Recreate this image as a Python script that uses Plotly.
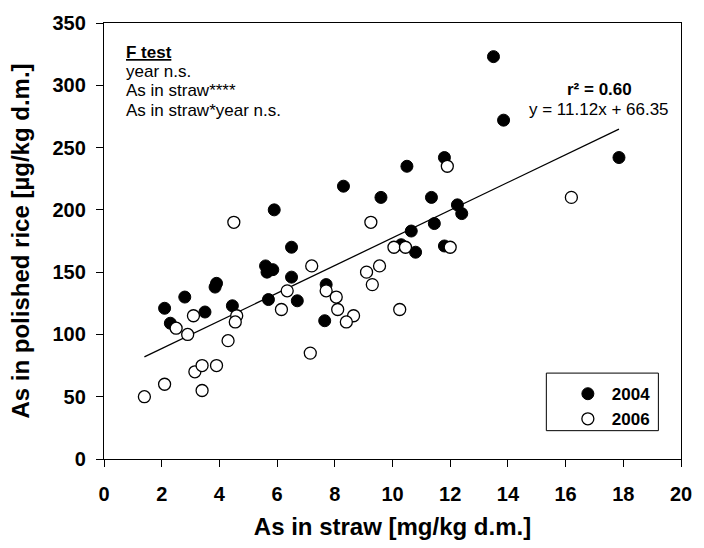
import plotly.graph_objects as go

# ---- data ----
straw_2004 = [2.1, 2.3, 2.8, 3.5, 3.9, 3.85, 4.45, 5.6, 5.65, 5.85, 5.7, 5.9, 6.5, 6.5, 6.7,
              7.7, 7.65, 8.3, 9.6, 10.5, 10.65, 10.3, 10.8, 11.35, 11.45, 11.8, 11.8, 12.25,
              12.4, 13.5, 13.85, 17.85]
rice_2004 = [121, 109, 130, 118, 141, 138, 123, 155, 150, 152, 128, 200, 170, 146, 127,
             140, 111, 219, 210, 235, 183, 172, 166, 210, 189, 171, 242, 204,
             197, 323, 272, 242]

straw_2006 = [1.4, 2.1, 2.5, 2.9, 3.1, 3.15, 3.4, 3.4, 3.9, 4.3, 4.6, 4.55, 4.5, 6.15, 6.35,
              7.2, 7.15, 7.7, 8.05, 8.1, 8.65, 8.4, 9.25, 9.1, 9.55, 9.3, 10.05, 10.45, 10.25,
              11.9, 12.0, 16.2]
rice_2006 = [50, 60, 105, 100, 115, 70, 75, 55, 75, 95, 115, 110, 190, 120, 135,
             155, 85, 135, 130, 120, 115, 110, 190, 150, 155, 140, 170, 170, 120,
             235, 170, 210]

slope = 11.12
intercept = 66.35
r2 = 0.60

x_ticks = [0, 2, 4, 6, 8, 10, 12, 14, 16, 18, 20]
y_ticks = [0, 50, 100, 150, 200, 250, 300, 350]

ftest_lines = ["<b><u>F test</u></b>", "year n.s.", "As in straw****", "As in straw*year n.s."]

# regression line over the data range
all_x = straw_2004 + straw_2006
fit_x = [min(all_x), max(all_x)]
fit_y = [slope * v + intercept for v in fit_x]

FONT = "Liberation Sans, Arial, sans-serif"

fig = go.Figure()
fig.add_trace(go.Scatter(x=fit_x, y=fit_y, mode="lines",
                         line=dict(color="black", width=1.3),
                         showlegend=False, hoverinfo="skip"))
fig.add_trace(go.Scatter(x=straw_2004, y=rice_2004, mode="markers", name="2004",
                         marker=dict(symbol="circle", size=12, color="black",
                                     line=dict(color="black", width=1))))
fig.add_trace(go.Scatter(x=straw_2006, y=rice_2006, mode="markers", name="2006",
                         marker=dict(symbol="circle", size=12, color="white",
                                     line=dict(color="black", width=1.3))))

axis_common = dict(showline=True, linecolor="black", linewidth=1.3, mirror=True,
                   ticks="outside", ticklen=7, tickwidth=1.3, tickcolor="black",
                   showgrid=False, zeroline=False,
                   tickfont=dict(family=FONT, size=20, color="black", weight="bold"))

fig.update_xaxes(range=[0, 20], tickvals=x_ticks, ticktext=[str(v) for v in x_ticks],
                 title=dict(text="As in straw [mg/kg d.m.]", standoff=14,
                            font=dict(family=FONT, size=24, color="black", weight="bold")),
                 ticklabelstandoff=10, **axis_common)
fig.update_yaxes(range=[0, 350], tickvals=y_ticks, ticktext=[str(v) for v in y_ticks],
                 title=dict(text="As in polished rice [µg/kg d.m.]", standoff=16,
                            font=dict(family=FONT, size=24, color="black", weight="bold")),
                 ticklabelstandoff=6, **axis_common)

for txt, yy in zip(ftest_lines, [0.9327, 0.8879, 0.8442, 0.8004]):
    fig.add_annotation(xref="paper", yref="paper", x=0.034, y=yy, xanchor="left", yanchor="middle",
                       align="left", showarrow=False, text=txt,
                       font=dict(family=FONT, size=17, color="black"))

fig.add_annotation(xref="paper", yref="paper", x=0.8586, y=0.8475, xanchor="center", yanchor="middle",
                   showarrow=False, text=f"<b>r² = {r2:.2f}</b>",
                   font=dict(family=FONT, size=17, color="black"))
fig.add_annotation(xref="paper", yref="paper", x=0.8586, y=0.8027, xanchor="center", yanchor="middle",
                   showarrow=False, text=f"y = {slope:.2f}x + {intercept:.2f}",
                   font=dict(family=FONT, size=17, color="black"))

# legend frame
fig.add_shape(type="rect", xref="paper", yref="paper", x0=0.7666, x1=0.9608, y0=0.065, y1=0.197,
              line=dict(color="black", width=1), fillcolor="rgba(0,0,0,0)")

fig.update_layout(
    width=704, height=548,
    margin=dict(l=104, r=13, t=20, b=82),
    paper_bgcolor="white", plot_bgcolor="white",
    legend=dict(x=0.797, y=0.19, xanchor="left", yanchor="top",
                bgcolor="rgba(0,0,0,0)", borderwidth=0, itemwidth=38,
                font=dict(family=FONT, size=17, color="black", weight="bold"),
                tracegroupgap=0),
    showlegend=True,
)

fig.write_html("out.html")
